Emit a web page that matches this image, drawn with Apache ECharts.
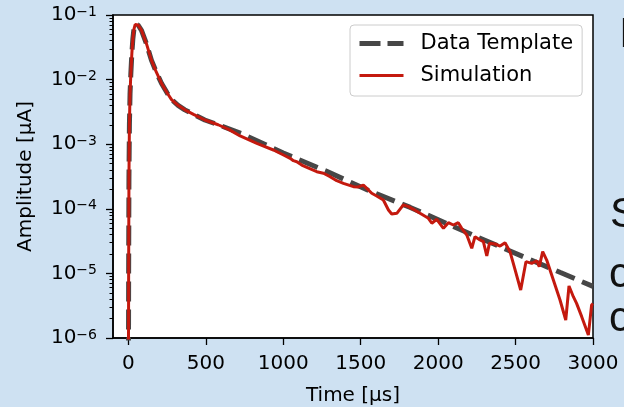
<!DOCTYPE html>
<html>
<head>
<meta charset="utf-8">
<script src="https://cdn.jsdelivr.net/npm/echarts@6/dist/echarts.min.js"></script>
<style>
html,body{margin:0;padding:0;background:#cee1f2;}
#chart{width:624px;height:407px;}
</style>
</head>
<body>
<div id="chart"></div>
<script>
// ---- data ----
const timeTemplate = [0, 1, 3, 6, 10, 15, 22, 28, 35, 43, 52, 62, 84, 116, 148, 180, 213, 250, 278, 320, 364, 420, 493, 579, 730, 1000, 1280, 1560, 1820, 2260, 2790, 3000];
const ampTemplate = [5e-7, 1e-5, 3e-4, 2e-3, 6e-3, 0.012, 0.026, 0.042, 0.060, 0.071, 0.073, 0.070, 0.058, 0.036, 0.020, 0.013, 0.0088, 0.0062, 0.0049, 0.0040, 0.0034, 0.0029, 0.00237, 0.00200, 0.00146, 7.3e-4, 3.8e-4, 1.88e-4, 1.05e-4, 3.6e-5, 1.03e-5, 6.3e-6];

const timeSim = [0, 1, 3, 6, 10, 15, 22, 28, 35, 43, 52, 62, 84, 116, 148, 180, 213, 250, 278, 320, 364, 420, 493, 579, 650, 721, 829, 936, 1001, 1044, 1065, 1087, 1119, 1152, 1216, 1259, 1302, 1345, 1388, 1453, 1485, 1517, 1539, 1571, 1603, 1646, 1679, 1700, 1733, 1775, 1808, 1840, 1883, 1937, 1959, 1991, 2034, 2066, 2098, 2130, 2152, 2185, 2217, 2238, 2271, 2292, 2314, 2331, 2367, 2400, 2432, 2464, 2497, 2533, 2567, 2604, 2637, 2653, 2675, 2701, 2744, 2787, 2824, 2845, 2873, 2894, 2927, 2970, 2991, 3000];
const ampSim = [5e-7, 1e-5, 3e-4, 2e-3, 6e-3, 0.012, 0.026, 0.042, 0.060, 0.071, 0.073, 0.070, 0.058, 0.036, 0.020, 0.013, 0.0088, 0.0062, 0.0049, 0.0040, 0.0034, 0.0029, 0.00237, 0.00200, 1.68e-3, 1.34e-3, 1.03e-3, 8.13e-4, 6.81e-4, 6.05e-4, 5.56e-4, 5.36e-4, 4.76e-4, 4.39e-4, 3.75e-4, 3.55e-4, 3.14e-4, 2.72e-4, 2.48e-4, 2.20e-4, 2.18e-4, 2.33e-4, 2.07e-4, 1.74e-4, 1.58e-4, 1.37e-4, 9.57e-5, 8.31e-5, 8.51e-5, 1.15e-4, 1.08e-4, 9.82e-5, 8.51e-5, 7.13e-5, 5.97e-5, 6.88e-5, 4.99e-5, 6.10e-5, 5.61e-5, 6.10e-5, 4.99e-5, 3.93e-5, 2.45e-5, 3.70e-5, 3.29e-5, 3.10e-5, 1.86e-5, 2.92e-5, 2.85e-5, 2.65e-5, 2.99e-5, 2.17e-5, 1.13e-5, 5.53e-6, 1.52e-5, 1.43e-5, 1.57e-5, 1.27e-5, 2.17e-5, 1.61e-5, 7.91e-6, 3.87e-6, 1.90e-6, 6.38e-6, 4.36e-6, 3.44e-6, 2.14e-6, 1.11e-6, 3.24e-6, 3.40e-6];

const xTicks = [0, 500, 1000, 1500, 2000, 2500, 3000];
const yTicks = [1e-6, 1e-5, 1e-4, 1e-3, 1e-2, 1e-1];
const yExponents = ['\u22126', '\u22125', '\u22124', '\u22123', '\u22122', '\u22121'];
const seriesNames = ['Data Template', 'Simulation'];
const xName = 'Time [\u00b5s]';
const yName = 'Amplitude [\u00b5A]';
const sideTexts = ['I', 'S', 'c', 'c'];

// minor log ticks (2..9 x 10^k)
const yMinorTicks = [];
for (let e = -6; e <= -2; e++) for (let m = 2; m <= 9; m++) yMinorTicks.push(m * Math.pow(10, e));

const FONT = 'DejaVu Sans';
const TEMPLATE_COLOR = '#474747';
const SIM_COLOR = '#c4190e';
const chart = echarts.init(document.getElementById('chart'), null, {renderer: 'canvas'});

const zip = (xs, ys) => xs.map((x, i) => [x, ys[i]]);

chart.setOption({
  animation: false,
  backgroundColor: '#cee1f2',
  textStyle: {fontFamily: FONT},
  grid: {left: 113, right: 31, top: 15, bottom: 69, containLabel: false, outerBoundsMode: 'none',
         show: true, backgroundColor: '#ffffff', borderColor: '#000', borderWidth: 1.5},
  legend: {
    data: [
      {name: seriesNames[0], itemStyle: {opacity: 0}, lineStyle: {color: TEMPLATE_COLOR, width: 5, type: [21, 7]}},
      {name: seriesNames[1], itemStyle: {opacity: 0}, lineStyle: {color: SIM_COLOR, width: 3, type: 'solid'}}
    ],
    orient: 'vertical',
    left: 350, top: 25,
    padding: [8, 9, 10, 7],
    itemGap: 11,
    itemWidth: 44, itemHeight: 14,
    backgroundColor: 'rgba(255,255,255,0.85)',
    borderColor: '#cccccc', borderWidth: 1, borderRadius: 4,
    textStyle: {fontSize: 21, color: '#000', fontFamily: FONT, padding: [0, 0, 0, 12]}
  },
  xAxis: {
    type: 'value', min: -100, max: 3000,
    name: xName, nameLocation: 'middle', nameGap: 48,
    nameTextStyle: {fontSize: 20, color: '#000', fontFamily: FONT},
    axisLine: {show: true, onZero: false, lineStyle: {color: '#000', width: 1.5}},
    axisTick: {show: true, customValues: xTicks, length: 7, lineStyle: {color: '#000', width: 1.3}},
    axisLabel: {customValues: xTicks, fontSize: 20, color: '#000', margin: 16, fontFamily: FONT, formatter: v => String(v)},
    splitLine: {show: false}
  },
  yAxis: [{
    type: 'log', logBase: 10, min: 1e-6, max: 1e-1,
    name: yName, nameLocation: 'middle', nameGap: 77, nameRotate: 90,
    nameTextStyle: {fontSize: 20, color: '#000', fontFamily: FONT},
    axisLine: {show: true, onZero: false, lineStyle: {color: '#000', width: 1.5}},
    axisTick: {show: true, customValues: yTicks, length: 7, lineStyle: {color: '#000', width: 1.3}},
    axisLabel: {
      customValues: yTicks, margin: 16,
      formatter: function (v) {
        const i = yTicks.findIndex(t => Math.abs(Math.log10(t) - Math.log10(v)) < 1e-6);
        return '{a|10}{b|' + (i >= 0 ? yExponents[i] : '') + '}';
      },
      rich: {
        a: {fontSize: 20, fontFamily: FONT, color: '#000', lineHeight: 20, padding: [6, 0, 0, 0], verticalAlign: 'bottom'},
        b: {fontSize: 14, fontFamily: FONT, color: '#000', lineHeight: 14, verticalAlign: 'top'}
      }
    },
    splitLine: {show: false}
  }, {
    type: 'log', logBase: 10, min: 1e-6, max: 1e-1, position: 'left',
    axisLine: {show: false, onZero: false},
    axisTick: {show: true, customValues: yMinorTicks, length: 3.5, lineStyle: {color: '#000', width: 1}},
    axisLabel: {show: false},
    splitLine: {show: false}
  }],
  series: [{
    name: seriesNames[0], type: 'line', symbol: 'none', showSymbol: false,
    data: zip(timeTemplate, ampTemplate),
    lineStyle: {color: TEMPLATE_COLOR, width: 5, type: [20, 8]},
    itemStyle: {color: TEMPLATE_COLOR},
    clip: true, z: 2
  }, {
    name: seriesNames[1], type: 'line', symbol: 'none', showSymbol: false,
    data: zip(timeSim, ampSim),
    lineStyle: {color: SIM_COLOR, width: 3},
    itemStyle: {color: SIM_COLOR},
    clip: true, z: 3
  }],
  graphic: [
    {type: 'text', x: 619, y: 35, style: {text: sideTexts[0], font: '42px "Liberation Sans"', fill: '#111', verticalAlign: 'middle'}},
    {type: 'text', x: 610, y: 215, style: {text: sideTexts[1], font: '42px "Liberation Sans"', fill: '#111', verticalAlign: 'middle'}},
    {type: 'text', x: 609, y: 275, style: {text: sideTexts[2], font: '42px "Liberation Sans"', fill: '#111', verticalAlign: 'middle'}},
    {type: 'text', x: 609, y: 319, style: {text: sideTexts[3], font: '42px "Liberation Sans"', fill: '#111', verticalAlign: 'middle'}}
  ]
});
</script>
</body>
</html>
